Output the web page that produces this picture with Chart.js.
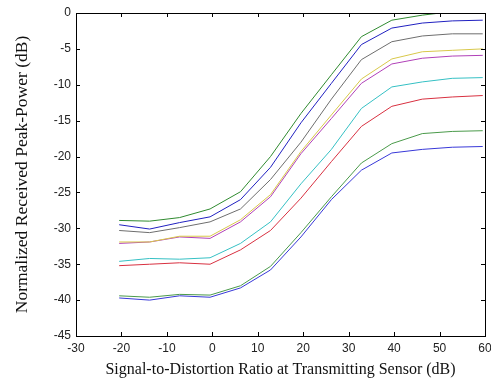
<!DOCTYPE html>
<html>
<head>
<meta charset="utf-8">
<script src="https://cdn.jsdelivr.net/npm/chart.js@4"></script>
<style>
  html, body { margin: 0; padding: 0; background: #fff; }
  #wrap { width: 491px; height: 383px; }
</style>
</head>
<body>
<div id="wrap"><canvas id="peakChart" width="491" height="383"></canvas></div>
<script>
// SNR sample points (dB)
const snr = [-20.5, -13.8, -7.2, -0.5, 6.2, 12.8, 19.5, 26.2, 32.8, 39.5, 46.2, 52.8, 59.5];

// Normalized received peak power (dB), one array per curve, top to bottom
const curveGreen1  = [-28.9, -29.0, -28.5, -27.3, -24.9, -20.0, -14.0, -8.6, -3.3, -1.0, -0.3, 0.2, 0.4];
const curveBlue1   = [-29.5, -30.1, -29.2, -28.4, -26.0, -21.5, -15.3, -9.8, -4.4, -2.1, -1.4, -1.1, -1.0];
const curveGray    = [-30.3, -30.6, -29.9, -29.1, -27.3, -23.2, -18.0, -12.0, -6.5, -4.0, -3.2, -2.9, -2.9];
const curveYellow  = [-31.9, -31.9, -31.1, -31.1, -28.8, -25.3, -19.3, -14.2, -9.2, -6.4, -5.4, -5.2, -5.0];
const curveMagenta = [-32.1, -31.9, -31.2, -31.4, -29.1, -25.6, -19.6, -14.7, -9.8, -7.1, -6.3, -6.0, -5.9];
const curveCyan    = [-34.6, -34.2, -34.3, -34.1, -32.1, -29.1, -23.8, -19.0, -13.3, -10.3, -9.6, -9.1, -9.0];
const curveRed     = [-35.2, -35.0, -34.8, -35.0, -33.0, -30.3, -25.8, -20.7, -15.8, -13.0, -12.0, -11.7, -11.5];
const curveGreen2  = [-39.4, -39.6, -39.2, -39.3, -38.0, -35.3, -30.6, -25.6, -20.9, -18.2, -16.8, -16.5, -16.4];
const curveBlue2   = [-39.7, -40.0, -39.4, -39.6, -38.3, -35.8, -31.2, -26.0, -21.9, -19.5, -19.0, -18.7, -18.6];

// Axis ticks
const xTicks = [-30, -20, -10, 0, 10, 20, 30, 40, 50, 60];
const yTicks = [-45, -40, -35, -30, -25, -20, -15, -10, -5, 0];

const series = [
    { values: curveGreen1,  color: '#2f8a2f' },
    { values: curveBlue1,   color: '#2020c0' },
    { values: curveGray,    color: '#6e6e6e' },
    { values: curveYellow,  color: '#d8c84a' },
    { values: curveMagenta, color: '#b040b8' },
    { values: curveCyan,    color: '#35c0c4' },
    { values: curveRed,     color: '#d83040' },
    { values: curveGreen2,  color: '#4a9a4a' },
    { values: curveBlue2,   color: '#3838d8' }
];

// MATLAB-style box with inward ticks on all four sides
const boxTicks = {
    id: 'boxTicks',
    afterDraw(chart) {
        const { ctx, chartArea: a, scales: { x, y } } = chart;
        const len = 4;
        ctx.save();
        ctx.strokeStyle = '#000';
        ctx.lineWidth = 1;
        ctx.beginPath();
        xTicks.forEach(v => {
            const px = Math.round(x.getPixelForValue(v)) + 0.5;
            ctx.moveTo(px, a.bottom); ctx.lineTo(px, a.bottom - len);
            ctx.moveTo(px, a.top); ctx.lineTo(px, a.top + len);
        });
        yTicks.forEach(v => {
            const py = Math.round(y.getPixelForValue(v)) + 0.5;
            ctx.moveTo(a.left, py); ctx.lineTo(a.left + len, py);
            ctx.moveTo(a.right, py); ctx.lineTo(a.right - len, py);
        });
        ctx.stroke();
        ctx.strokeRect(Math.round(a.left) + 0.5, Math.round(a.top) + 0.5,
            Math.round(a.right - a.left), Math.round(a.bottom - a.top));
        ctx.restore();
    }
};

const tickFont = { family: '"Liberation Sans", Arial, sans-serif', size: 12 };
const serif = '"Liberation Serif", "Times New Roman", serif';

new Chart(document.getElementById('peakChart'), {
    type: 'line',
    data: {
        datasets: series.map(s => ({
            data: snr.map((v, i) => ({ x: v, y: s.values[i] })),
            borderColor: s.color,
            borderWidth: 1,
            pointRadius: 0,
            tension: 0,
            fill: false
        }))
    },
    options: {
        responsive: false,
        animation: false,
        devicePixelRatio: 1,
        layout: { padding: { top: 13, right: 6, left: 0, bottom: 0 } },
        plugins: {
            legend: { display: false },
            tooltip: { enabled: false }
        },
        scales: {
            x: {
                type: 'linear',
                min: -30,
                max: 60,
                afterBuildTicks: s => { s.ticks = xTicks.map(v => ({ value: v })); },
                afterFit: s => { s.height = 47; s.paddingLeft = 0; s.paddingRight = 0; },
                grid: { display: false, drawTicks: false },
                border: { display: false },
                ticks: { font: tickFont, color: '#222', padding: 5, maxRotation: 0, autoSkip: false },
                title: {
                    display: true,
                    text: 'Signal-to-Distortion Ratio at Transmitting Sensor (dB)',
                    font: { family: serif, size: 16 },
                    color: '#111',
                    padding: { top: 0, bottom: 4 }
                }
            },
            y: {
                min: -45,
                max: 0,
                afterBuildTicks: s => { s.ticks = yTicks.map(v => ({ value: v })); },
                afterFit: s => { s.width = 76; s.paddingTop = 0; s.paddingBottom = 0; },
                grid: { display: false, drawTicks: false },
                border: { display: false },
                ticks: { font: tickFont, color: '#222', padding: 5, autoSkip: false },
                title: {
                    display: true,
                    text: 'Normalized Received Peak-Power (dB)',
                    font: { family: serif, size: 17.5 },
                    color: '#111',
                    padding: { top: 12, bottom: 0 }
                }
            }
        }
    },
    plugins: [boxTicks]
});
</script>
</body>
</html>
